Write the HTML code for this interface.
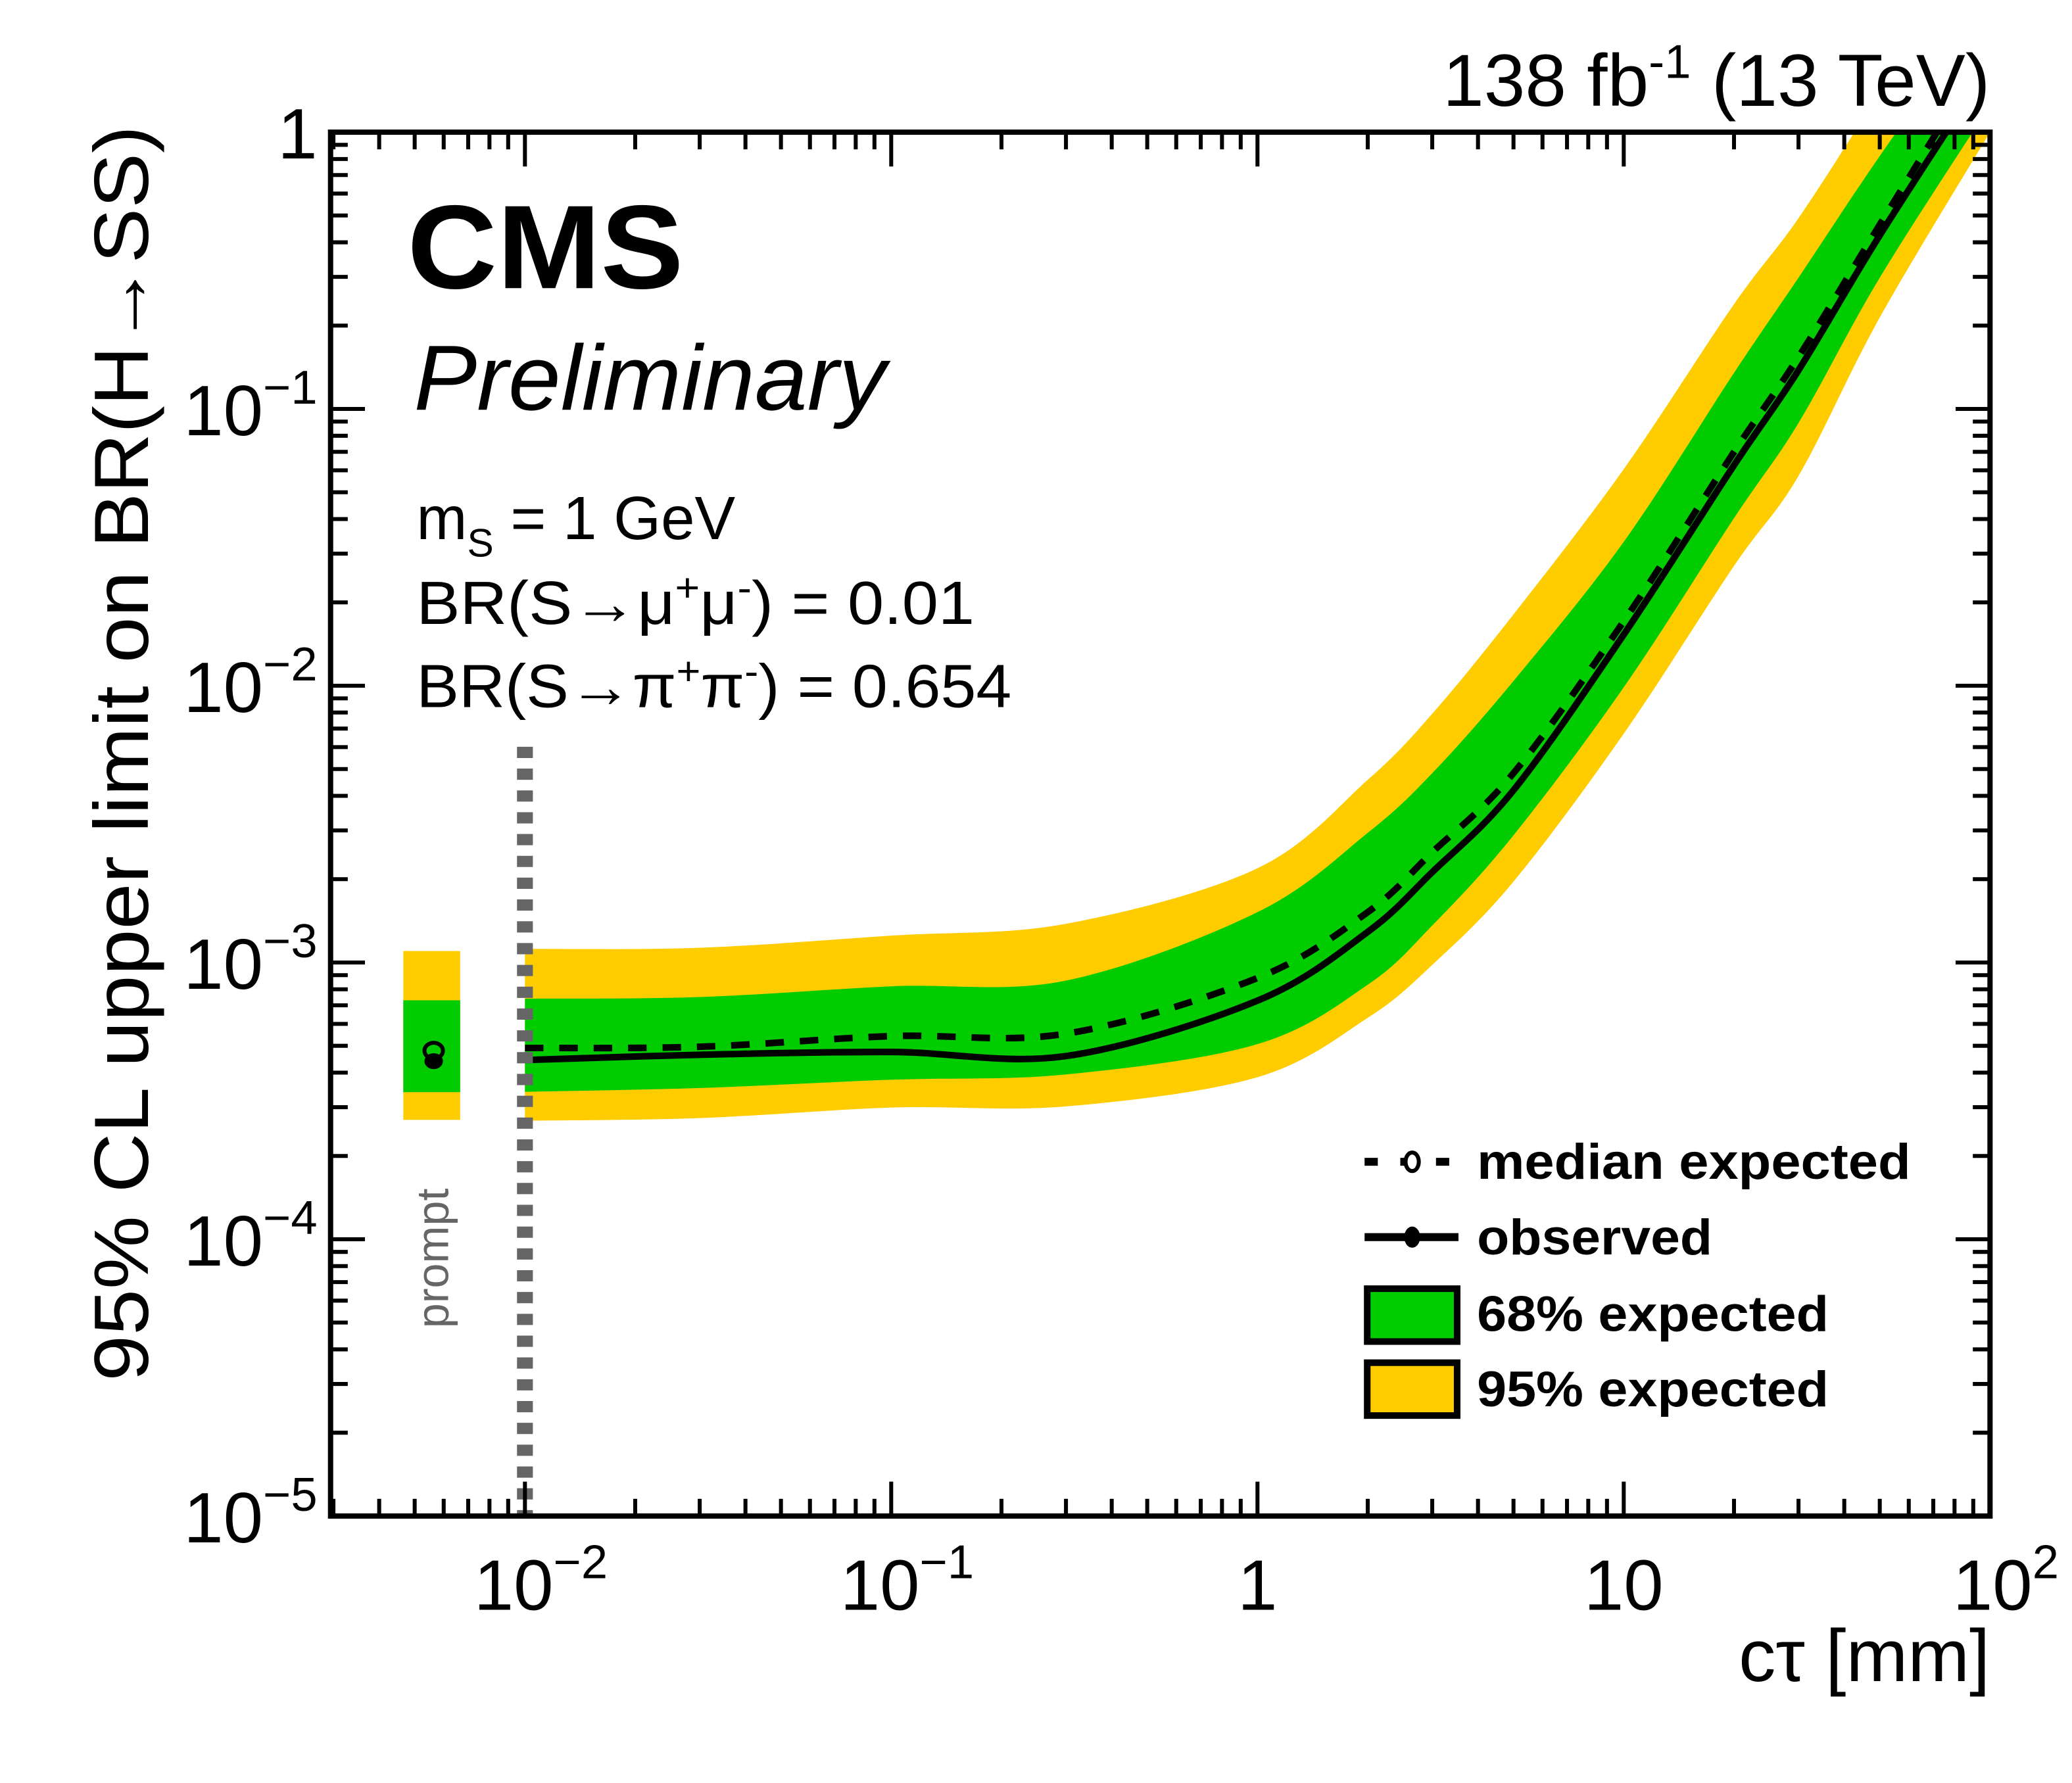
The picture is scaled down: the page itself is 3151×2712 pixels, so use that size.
<!DOCTYPE html>
<html><head><meta charset="utf-8"><style>
html,body{margin:0;padding:0;background:#fff;}
svg{display:block;}
text{font-family:"Liberation Sans",sans-serif;fill:#000;}
</style></head><body>
<svg id="chart" width="3151" height="2712" viewBox="0 0 1567 1349" preserveAspectRatio="none" xmlns="http://www.w3.org/2000/svg">
<g id="bands"></g>
<g id="lines"></g>
<g id="axes"></g>
<text x="1505" y="80" font-size="56" text-anchor="end">138 fb<tspan font-size="36" dy="-21">-1</tspan><tspan dy="21"> (13 TeV)</tspan></text>
<text x="308" y="218" font-size="90" font-weight="bold" textLength="209" lengthAdjust="spacingAndGlyphs">CMS</text>
<text x="313" y="310" font-size="70" font-style="italic" textLength="357" lengthAdjust="spacingAndGlyphs">Preliminary</text>
<text x="315" y="408" font-size="46">m<tspan font-size="30" dy="13">S</tspan><tspan dy="-13"> = 1 GeV</tspan></text>
<text x="315" y="472" font-size="46" textLength="422" lengthAdjust="spacingAndGlyphs">BR(S→μ<tspan font-size="30" dy="-17">+</tspan><tspan dy="17">μ</tspan><tspan font-size="30" dy="-17">-</tspan><tspan dy="17">) = 0.01</tspan></text>
<text x="315" y="535" font-size="46" textLength="450" lengthAdjust="spacingAndGlyphs">BR(S→π<tspan font-size="30" dy="-17">+</tspan><tspan dy="17">π</tspan><tspan font-size="30" dy="-17">-</tspan><tspan dy="17">) = 0.654</tspan></text>
<text transform="translate(112,570) rotate(-90)" font-size="58" text-anchor="middle" textLength="950" lengthAdjust="spacingAndGlyphs">95% CL upper limit on BR(H→SS)</text>
<text x="1505" y="1272" font-size="56" text-anchor="end">cτ [mm]</text>
<text transform="translate(339,952) rotate(-90)" font-size="34" style="fill:#666" text-anchor="middle">prompt</text>
<g>
  <g>
    <line x1="1032" y1="879" x2="1103" y2="879" stroke="#000" stroke-width="6" stroke-dasharray="10,17"/>
    <ellipse cx="1068" cy="879" rx="5" ry="7" fill="#fff" stroke="#000" stroke-width="3"/>
    <text x="1117" y="892" font-size="38" font-weight="bold" textLength="328" lengthAdjust="spacingAndGlyphs">median expected</text>
  </g>
  <g>
    <line x1="1032" y1="936" x2="1103" y2="936" stroke="#000" stroke-width="6"/>
    <ellipse cx="1068" cy="936" rx="6" ry="8" fill="#000"/>
    <text x="1117" y="949" font-size="38" font-weight="bold" textLength="178" lengthAdjust="spacingAndGlyphs">observed</text>
  </g>
  <g>
    <rect x="1034" y="975" width="68" height="40" fill="#00cc00" stroke="#000" stroke-width="5"/>
    <text x="1117" y="1007" font-size="38" font-weight="bold" textLength="266" lengthAdjust="spacingAndGlyphs">68% expected</text>
  </g>
  <g>
    <rect x="1034" y="1031" width="68" height="40" fill="#ffcc00" stroke="#000" stroke-width="5"/>
    <text x="1117" y="1064" font-size="38" font-weight="bold" textLength="266" lengthAdjust="spacingAndGlyphs">95% expected</text>
  </g>
</g>
</svg>
<script>
const ctau = [0.01, 0.03, 0.1, 0.3, 1, 2, 3, 5, 10, 20, 30, 50, 100];
const median = [4.91e-4, 4.96e-4, 5.42e-4, 5.53e-4, 8.79e-4, 1.52e-3, 2.5e-3, 4.83e-3, 0.0171, 0.0699, 0.154, 0.463, 2.04];
const observed = [4.44e-4, 4.64e-4, 4.75e-4, 4.59e-4, 7.28e-4, 1.29e-3, 2.12e-3, 4.19e-3, 0.0153, 0.0626, 0.138, 0.424, 1.75];
const green_up = [7.4e-4, 7.5e-4, 8.2e-4, 8.6e-4, 1.52e-3, 2.94e-3, 4.83e-3, 0.0104, 0.0331, 0.135, 0.298, 0.82, 3.0];
const green_lo = [3.41e-4, 3.52e-4, 3.77e-4, 3.94e-4, 5.07e-4, 8.31e-4, 1.36e-3, 2.88e-3, 9.87e-3, 0.0403, 0.089, 0.298, 1.25];
const yellow_up = [1.12e-3, 1.13e-3, 1.25e-3, 1.38e-3, 2.19e-3, 4.57e-3, 7.92e-3, 0.0181, 0.0606, 0.239, 0.489, 1.39, 5.81];
const yellow_lo = [2.68e-4, 2.74e-4, 2.99e-4, 3.02e-4, 3.85e-4, 6.31e-4, 9.8e-4, 1.96e-3, 6.71e-3, 0.0271, 0.0573, 0.214, 1.0];
const prompt_vals = {median: 4.8e-4, observed: 4.4e-4, g_up: 7.3e-4, g_lo: 3.4e-4, y_up: 1.1e-3, y_lo: 2.7e-4};
const xTickLabels = ["10", "10", "1", "10", "10"];
const xTickExps = ["−2", "−1", "", "", "2"];
const xTickVals = [0.01, 0.1, 1, 10, 100];
const yTickVals = [1e-5, 1e-4, 1e-3, 1e-2, 1e-1, 1];
const yTickExps = ["−5", "−4", "−3", "−2", "−1", ""];

const NS = "http://www.w3.org/2000/svg";
const L = 250, R = 1505, T = 100, B = 1147;
const X = v => 397 + (Math.log10(v) + 2) * 277;
const Y = v => 100 - Math.log10(v) * 209.4;
function mk(tag, attrs, parent) {
  const e = document.createElementNS(NS, tag);
  for (const k in attrs) e.setAttribute(k, attrs[k]);
  parent.appendChild(e);
  return e;
}
const bands = document.getElementById('bands');
const lines = document.getElementById('lines');
const axes = document.getElementById('axes');

const defs = mk('defs', {}, document.getElementById('chart'));
const cp = mk('clipPath', {id: 'frame'}, defs);
mk('rect', {x: L, y: T, width: R - L, height: B - T}, cp);
bands.setAttribute('clip-path', 'url(#frame)');
lines.setAttribute('clip-path', 'url(#frame)');

function smooth(pts, move) {
  let d = (move ? 'M' : 'L') + pts[0][0] + ',' + pts[0][1];
  for (let i = 0; i < pts.length - 1; i++) {
    const p0 = pts[Math.max(i - 1, 0)], p1 = pts[i], p2 = pts[i + 1], p3 = pts[Math.min(i + 2, pts.length - 1)];
    const c1x = p1[0] + (p2[0] - p0[0]) / 6, c1y = p1[1] + (p2[1] - p0[1]) / 6;
    const c2x = p2[0] - (p3[0] - p1[0]) / 6, c2y = p2[1] - (p3[1] - p1[1]) / 6;
    d += 'C' + c1x + ',' + c1y + ' ' + c2x + ',' + c2y + ' ' + p2[0] + ',' + p2[1];
  }
  return d;
}
const pts = vals => ctau.map((c, i) => [X(c), Y(vals[i])]);

function band(up, lo, color, name) {
  const d = smooth(pts(up), true) + smooth(pts(lo).reverse(), false) + 'Z';
  const p = mk('path', {d: d, fill: color}, bands);
  
  
}
band(yellow_up, yellow_lo, '#ffcc00', 'band-95');
band(green_up, green_lo, '#00cc00', 'band-68');

const px0 = 305, px1 = 348;
let r1 = mk('rect', {x: px0, y: Y(prompt_vals.y_up), width: px1 - px0, height: Y(prompt_vals.y_lo) - Y(prompt_vals.y_up), fill: '#ffcc00'}, bands);


let r2 = mk('rect', {x: px0, y: Y(prompt_vals.g_up), width: px1 - px0, height: Y(prompt_vals.g_lo) - Y(prompt_vals.g_up), fill: '#00cc00'}, bands);



function line(vals, dash, name) {
  const p = mk('path', {d: smooth(pts(vals), true), fill: 'none', stroke: '#000', 'stroke-width': 5, 'stroke-dasharray': dash}, lines);
  
  
}
line(median, '14,12', 'median-expected-line');
line(observed, 'none', 'observed-line');

let pm = mk('ellipse', {cx: 328, cy: Y(prompt_vals.observed), rx: 7, ry: 6, fill: '#000'}, lines);


let pe = mk('ellipse', {cx: 328, cy: Y(prompt_vals.median), rx: 7, ry: 6, fill: 'none', stroke: '#000', 'stroke-width': 3}, lines);



let sep = mk('line', {x1: 397, y1: 565, x2: 397, y2: B, stroke: '#666', 'stroke-width': 12, 'stroke-dasharray': '8.5,8'}, axes);



let fr = mk('rect', {x: L, y: T, width: R - L, height: B - T, fill: 'none', stroke: '#000', 'stroke-width': 4}, axes);



for (let e = -3; e <= 1; e++) {
  for (let m = 1; m <= 9; m++) {
    const v = m * Math.pow(10, e);
    const x = X(v);
    if (x < L + 1 || x > R - 1) continue;
    const len = m === 1 ? 26 : 13;
    const t1 = mk('line', {x1: x, y1: B, x2: x, y2: B - len, stroke: '#000', 'stroke-width': 3}, axes);
    
    
    const t2 = mk('line', {x1: x, y1: T, x2: x, y2: T + len, stroke: '#000', 'stroke-width': 3}, axes);
    
    
  }
}
for (let e = -5; e <= -1; e++) {
  for (let m = 1; m <= 9; m++) {
    const v = m * Math.pow(10, e);
    const y = Y(v);
    const len = m === 1 ? 26 : 13;
    const t1 = mk('line', {x1: L, y1: y, x2: L + len, y2: y, stroke: '#000', 'stroke-width': 3}, axes);
    
    
    const t2 = mk('line', {x1: R, y1: y, x2: R - len, y2: y, stroke: '#000', 'stroke-width': 3}, axes);
    
    
  }
}
xTickVals.forEach((v, i) => {
  const t = mk('text', {x: X(v) + (xTickExps[i] ? 12 : 0), y: 1218, 'font-size': 54, 'text-anchor': 'middle'}, axes);
  
  
  t.textContent = xTickLabels[i];
  if (xTickExps[i]) {
    const s = mk('tspan', {'font-size': 36, dy: -24}, t);
    s.textContent = xTickExps[i];
  }
});
yTickVals.forEach((v, i) => {
  const t = mk('text', {x: 240, y: Y(v) + 20, 'font-size': 54, 'text-anchor': 'end'}, axes);
  
  
  if (yTickExps[i]) {
    t.textContent = '10';
    const s = mk('tspan', {'font-size': 36, dy: -24}, t);
    s.textContent = yTickExps[i];
  } else {
    t.textContent = '1';
  }
});
</script>
</body></html>
